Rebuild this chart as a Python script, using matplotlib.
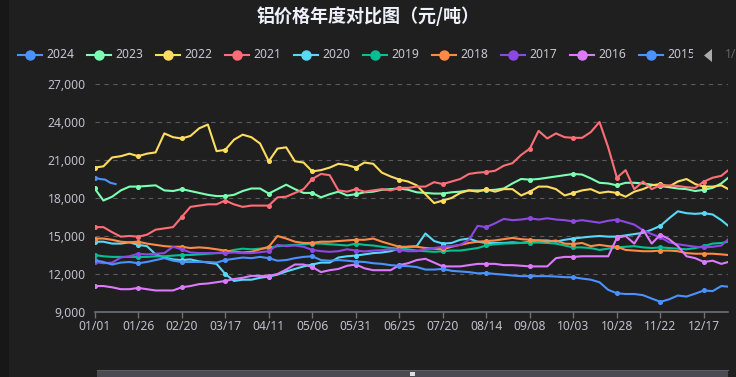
import matplotlib
matplotlib.use("Agg")
import matplotlib.pyplot as plt
from matplotlib.lines import Line2D
from matplotlib.patches import Rectangle, Polygon
from matplotlib.transforms import Bbox

plt.rcParams['font.family'] = ['Noto Sans', 'Noto Sans CJK SC', 'DejaVu Sans']

# ---------------- data ----------------
title = "铝价格年度对比图（元/吨）"
years = ["2024", "2023", "2022", "2021", "2020", "2019", "2018", "2017", "2016", "2015"]
colors = ["#4992ff", "#7cffb2", "#fddd60", "#ff6e76", "#58d9f9",
          "#05c091", "#ff8a45", "#8d48e3", "#dd79ff", "#4992ff"]

days = list(range(0, 361, 5)) + [364]
x_tick_pos = list(range(0, 351, 25))
x_tick_labels = ["01/01", "01/26", "02/20", "03/17", "04/11", "05/06", "05/31", "06/25",
                 "07/20", "08/14", "09/08", "10/03", "10/28", "11/22", "12/17"]
y_ticks = [9000, 12000, 15000, 18000, 21000, 24000, 27000]
y_tick_labels = ["9,000", "12,000", "15,000", "18,000", "21,000", "24,000", "27,000"]

days_2024 = [0, 3, 6, 9, 12]
v2024 = [19600, 19500, 19450, 19200, 19100]

v2023 = [18750, 17800, 18100, 18600, 18900, 18900, 18950, 19000, 18600, 18550,
         18700, 18550, 18400, 18250, 18150, 18150, 18250, 18550, 18750, 18750,
         18350, 18700, 19050, 18700, 18400, 18400, 18050, 18300, 18500, 18200,
         18300, 18450, 18500, 18650, 18700, 18750, 18650, 18450, 18400, 18350,
         18350, 18450, 18500, 18600, 18600, 18600, 18650, 18750, 19150, 19500,
         19450, 19500, 19600, 19700, 19800, 19900, 19850, 19550, 19200, 19150,
         19000, 19200, 19200, 19150, 19050, 18950, 18850, 18750, 18700, 18550,
         18650, 18800, 19150, 19600]

v2022 = [20400, 20500, 21200, 21300, 21500, 21300, 21500, 21600, 23100, 22800,
         22700, 22900, 23500, 23800, 21700, 21800, 22600, 23000, 22800, 22300,
         20900, 21900, 22000, 20900, 20800, 20100, 20200, 20400, 20700, 20600,
         20400, 20800, 20700, 20000, 19700, 19450, 19300, 19000, 18300, 17600,
         17800, 18000, 18400, 18600, 18500, 18700, 18500, 18700, 18700, 18200,
         18500, 18900, 18900, 18700, 18200, 18400, 18600, 18700, 18400, 18500,
         18400, 18100, 18500, 18700, 19000, 19100, 18900, 19300, 19500, 19100,
         18900, 18900, 19000, 18700]

v2021 = [15700, 15700, 15300, 14950, 15000, 14950, 15100, 15500, 15600, 15700,
         16500, 17300, 17400, 17500, 17500, 17800, 17500, 17300, 17400, 17400,
         17400, 18050, 18100, 18400, 18700, 19500, 19900, 19800, 18600, 18500,
         18700, 18500, 18600, 18700, 18600, 18800, 18800, 18900, 18900, 19250,
         19100, 19300, 19500, 19900, 20000, 20050, 20150, 20550, 20750, 21400,
         21900, 23300, 22700, 23100, 22800, 22750, 22750, 23200, 24000, 22000,
         19600, 20200, 18700, 19300, 18700, 19000, 19000, 18950, 18850, 18800,
         19300, 19600, 19750, 20200]

v2020 = [14550, 14550, 14400, 14400, 14500, 14300, 14200, 13550, 13300, 13150,
         13100, 13150, 13000, 12900, 12800, 12000, 11450, 11550, 11550, 11700,
         11800, 11950, 12200, 12400, 12600, 12750, 12900, 12900, 13300, 13400,
         13450, 13550, 13650, 13700, 13800, 14000, 14150, 14200, 15200, 14600,
         14400, 14450, 14700, 14800, 14550, 14450, 14450, 14450, 14500, 14450,
         14550, 14650, 14650, 14550, 14700, 14800, 14880, 14950, 15000, 14950,
         14950, 15050, 15150, 15250, 15500, 15800, 16400, 16950, 16800, 16750,
         16800, 16700, 16250, 15800]

v2019 = [13500, 13400, 13350, 13350, 13350, 13350, 13350, 13400, 13400, 13450,
         13500, 13500, 13550, 13600, 13650, 13750, 13900, 14000, 13950, 14000,
         14050, 14200, 14250, 14300, 14350, 14400, 14400, 14350, 14300, 14250,
         14400, 14300, 14250, 14150, 14050, 14000, 13950, 13850, 13800, 13750,
         13800, 13850, 13850, 13950, 14050, 14250, 14350, 14400, 14420, 14450,
         14480, 14480, 14450, 14400, 14250, 14100, 14100, 14050, 13900, 14000,
         14100, 14150, 14200, 14100, 14050, 14100, 14050, 14000, 13950, 14050,
         14200, 14400, 14450, 14550]

v2018 = [14800, 14800, 14700, 14550, 14500, 14550, 14400, 14300, 14200, 14150,
         14150, 14050, 14100, 14050, 13950, 13850, 13750, 13700, 13750, 13950,
         14150, 15000, 14800, 14550, 14450, 14450, 14550, 14550, 14600, 14650,
         14700, 14700, 14800, 14550, 14350, 14150, 14150, 14150, 14050, 14000,
         13950, 14150, 14300, 14450, 14550, 14600, 14650, 14750, 14850, 14750,
         14700, 14650, 14550, 14650, 14400, 14370, 14450, 14200, 14300, 14200,
         14150, 13900, 13850, 13800, 13800, 13850, 13850, 13800, 13650, 13600,
         13600, 13600, 13550, 13500]

v2017 = [12950, 12850, 12900, 13300, 13400, 13600, 13550, 13600, 13650, 14150,
         13950, 13700, 13650, 13650, 13650, 13650, 13700, 13650, 13650, 13720,
         13800, 14300, 14200, 14250, 14150, 13900, 13800, 13750, 13800, 13950,
         13850, 13780, 13850, 13880, 13950, 13900, 13800, 13800, 13950, 14050,
         14150, 14200, 14300, 14700, 15800, 15700, 16000, 16350, 16250, 16300,
         16400, 16300, 16400, 16300, 16250, 16150, 16250, 16150, 16050, 16200,
         16300, 16100, 15900, 15450, 15150, 14900, 14500, 14350, 14250, 14150,
         14100, 14150, 14250, 14750]

v2016 = [11050, 11050, 10950, 10800, 10800, 10900, 10800, 10700, 10700, 10700,
         10950, 11050, 11200, 11250, 11350, 11450, 11600, 11700, 11850, 11850,
         11850, 12000, 12350, 12750, 12750, 12550, 12150, 12300, 12400, 12650,
         12750, 12450, 12300, 12300, 12300, 12700, 12850, 13100, 13200, 12900,
         12600, 12600, 12600, 12700, 12800, 12800, 12800, 12700, 12700, 12650,
         12600, 12600, 12600, 13250, 13350, 13350, 13400, 13400, 13400, 13400,
         14850, 15000, 14400, 15500, 14400, 15100, 14750, 14200, 13400, 13250,
         12950, 13050, 12800, 12950]

v2015 = [13100, 12950, 12750, 12900, 12950, 12850, 12950, 13100, 13250, 13050,
         12950, 12950, 12950, 12950, 12900, 13100, 13200, 13300, 13250, 13350,
         13250, 13050, 13100, 13250, 13350, 13400, 13100, 13050, 13100, 13050,
         12980, 12950, 12850, 12800, 12700, 12650, 12620, 12550, 12350, 12350,
         12400, 12250, 12200, 12150, 12050, 12080, 12000, 11950, 11880, 11830,
         11830, 11830, 11830, 11800, 11750, 11740, 11640, 11550, 11350, 10750,
         10480, 10420, 10420, 10330, 10060, 9800, 10000, 10300, 10220, 10450,
         10700, 10650, 11050, 11000]

series_x = [days_2024] + [days] * 9
series_v = [v2024, v2023, v2022, v2021, v2020, v2019, v2018, v2017, v2016, v2015]

# ---------------- figure ----------------
W, H = 736, 377
BG = "#1f1f1f"
fig = plt.figure(figsize=(W / 100, H / 100), dpi=100)
fig.patch.set_facecolor(BG)

# darker left strip
fig.patches.append(Rectangle((0, 0), 9 / W, 1, transform=fig.transFigure,
                             facecolor="#171717", edgecolor="none", zorder=0))

left, right, top, bottom = 94.7, 728.3, 84, 312
ax = fig.add_axes([left / W, 1 - bottom / H, (right - left) / W, (bottom - top) / H])
ax.set_facecolor(BG)
ax.set_xlim(0, 364)
ax.set_ylim(9000, 27000)

for yv in y_ticks[1:]:
    ax.axhline(yv, color="#5a5a5e", lw=0.8, ls=(0, (4, 4)), zorder=1)

for i, (xs, vs) in enumerate(zip(series_x, series_v)):
    ax.plot(xs, vs, color=colors[i], lw=1.5, zorder=2 + i,
            marker="o", markersize=2.6, markevery=5, solid_joinstyle="round")

for s in ["top", "right", "left"]:
    ax.spines[s].set_visible(False)
ax.spines["bottom"].set_color("#6e7079")
ax.spines["bottom"].set_linewidth(1.2)

ax.set_xticks(x_tick_pos)
ax.set_xticklabels(x_tick_labels)
ax.set_yticks(y_ticks)
ax.set_yticklabels(y_tick_labels)
ax.tick_params(axis="x", length=4, width=1, color="#6e7079", pad=2,
               labelsize=8.7, labelcolor="#c0c0cc")
ax.tick_params(axis="y", length=0, pad=6.5, labelsize=8.7, labelcolor="#c0c0cc")

# title
fig.text(368 / W, 1 - 16 / H, title, ha="center", va="center", fontsize=13,
         fontweight="bold", color="#eef1fa", family=["Noto Sans CJK SC", "DejaVu Sans"])

# legend (manual, paged look)
ly = 1 - 55 / H
for i, yr in enumerate(years):
    cx = 30 + 69.0 * i
    fig.lines.append(Line2D([(cx - 12) / W, (cx + 12) / W], [ly, ly],
                            transform=fig.transFigure, color=colors[i], lw=1.5))
    fig.lines.append(Line2D([cx / W], [ly], transform=fig.transFigure,
                            color=colors[i], marker="o", markersize=6.5, lw=0))
    t = fig.text((cx + 16) / W, ly, yr, ha="left", va="center", fontsize=8.7,
                 color="#c8c8d4")
    if i == len(years) - 1:
        t.set_clip_box(Bbox.from_extents(0, 0, 693, H))
        t.set_clip_on(True)

fig.patches.append(Polygon([(712 / W, 1 - 49 / H), (712 / W, 1 - 62 / H), (704 / W, 1 - 55.5 / H)],
                           closed=True, transform=fig.transFigure,
                           facecolor="#aaaaaa", edgecolor="none"))
fig.text(725 / W, ly, "1/", ha="left", va="center", fontsize=8.7, color="#666666")

# data-zoom slider at bottom
fig.patches.append(Rectangle((97 / W, 0), (728 - 97) / W, 7 / H, transform=fig.transFigure,
                             facecolor="#4a4a50", edgecolor="none"))
fig.lines.append(Line2D([97 / W, 728 / W], [7 / H, 7 / H], transform=fig.transFigure,
                        color="#5c5c62", lw=0.8))
fig.patches.append(Rectangle((410 / W, 1.5 / H), 5 / W, 4 / H, transform=fig.transFigure,
                             facecolor="#dddddd", edgecolor="none"))

fig.savefig("out.png", dpi=100, facecolor=BG)
